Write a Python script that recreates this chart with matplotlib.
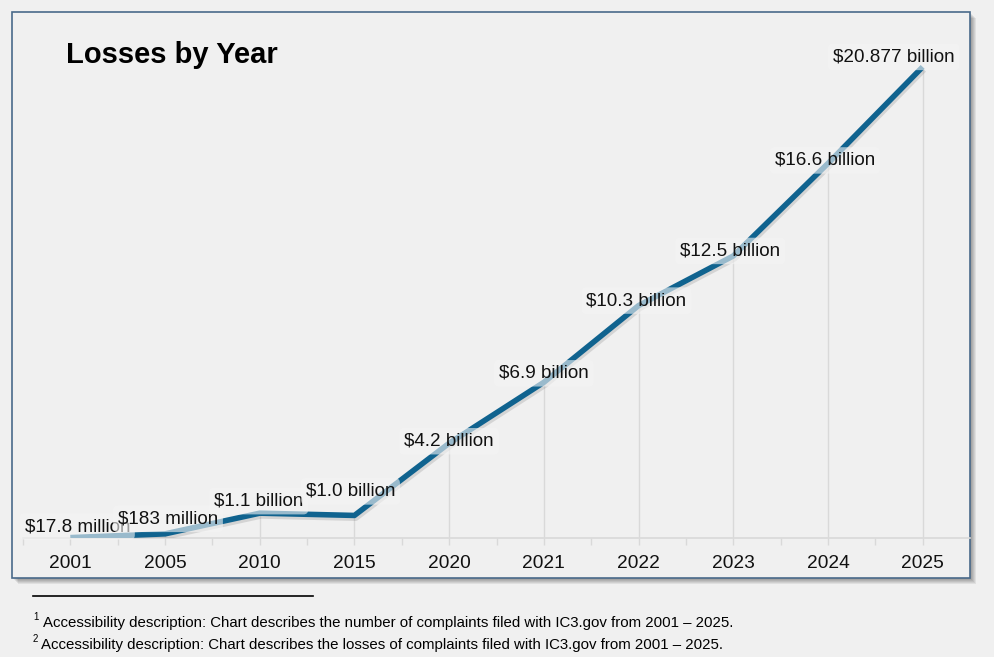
import matplotlib.pyplot as plt
import matplotlib.patches as mpatches
import matplotlib.patheffects as pe

# ==== data ====
years = ['2001', '2005', '2010', '2015', '2020', '2021', '2022', '2023', '2024', '2025']
losses_billion = [0.0178, 0.183, 1.1, 1.0, 4.2, 6.9, 10.3, 12.5, 16.6, 20.877]
labels = ['$17.8 million', '$183 million', '$1.1 billion', '$1.0 billion', '$4.2 billion',
          '$6.9 billion', '$10.3 billion', '$12.5 billion', '$16.6 billion', '$20.877 billion']
# label offsets in pixels (dx, dy) from each point
label_offsets = [(7, 11), (3, 15), (-1, 12), (-4, 24), (0, 2),
                 (0, 9), (-2, 5), (-3, 5), (-3, 3), (-29, 10)]
footnotes = ['Accessibility description: Chart describes the number of complaints filed with IC3.gov from 2001 \u2013 2025.',
             'Accessibility description: Chart describes the losses of complaints filed with IC3.gov from 2001 \u2013 2025.']

W, H = 994, 657
BG = '#f0f0f0'
LINE = '#10638f'
GRID = '#d9d9d9'

plt.rcParams['font.family'] = ['Liberation Sans', 'DejaVu Sans']

fig = plt.figure(figsize=(W / 100, H / 100), dpi=100, facecolor=BG)


def px_rect(x0, y0, x1, y1, **kw):
    # pixel box (top-left origin) -> figure coords rectangle
    return mpatches.Rectangle((x0 / W, 1 - y1 / H), (x1 - x0) / W, (y1 - y0) / H,
                              transform=fig.transFigure, **kw)


# ==== frame with soft shadow ====
for i in range(1, 7):
    fig.add_artist(px_rect(12 + i, 12 + i, 970 + i, 578 + i, fc='#000000', ec='none',
                           alpha=0.07, zorder=0))
fig.add_artist(px_rect(12, 12, 970, 578, fc=BG, ec='#4a6a8a', lw=1.2, zorder=1))

# ==== axes ====
ax = fig.add_axes([23 / W, 1 - 538 / H, 947 / W, 498 / H])
ax.set_facecolor('none')
ax.set_zorder(2)
x = list(range(len(years)))

ax.vlines(x, 0, losses_billion, color=GRID, lw=1.0, zorder=1)
ax.plot(x, losses_billion, color=LINE, lw=4, solid_capstyle='butt', zorder=3,
        path_effects=[pe.SimpleLineShadow(offset=(1, -2), shadow_color='#666666', alpha=0.2),
                      pe.Normal()])

for xi, v, lab, (dx, dy) in zip(x, losses_billion, labels, label_offsets):
    ax.annotate(lab, (xi, v), xytext=(dx, dy), textcoords='offset pixels',
                ha='center', va='center', fontsize=13.6, color='#111111', zorder=4,
                bbox=dict(boxstyle='round,pad=0.25', fc='#f5f5f5', ec='none', alpha=0.6))

ax.set_xlim(-0.5, 9.5)
ax.set_ylim(0, 22.07)
ax.set_xticks(x)
ax.set_xticklabels(years, fontsize=13.8, color='#111111')
ax.set_xticks([i - 0.5 for i in x], minor=True)
ax.tick_params(axis='x', which='both', length=5, color=GRID, width=1, pad=7)
ax.set_yticks([])
for s in ['top', 'left', 'right']:
    ax.spines[s].set_visible(False)
ax.spines['bottom'].set_color(GRID)
ax.spines['bottom'].set_linewidth(1.2)

# ==== title ====
fig.text(66 / W, 1 - 55 / H, 'Losses by Year', fontsize=21, fontweight='bold',
         ha='left', va='center', color='#000000', zorder=5)

# ==== footnotes ====
fig.add_artist(plt.Line2D([33 / W, 313 / W], [1 - 596 / H, 1 - 596 / H],
                          transform=fig.transFigure, color='black', lw=1.2))
fig.text(33 / W, 1 - 617 / H, '1', fontsize=7, ha='left', va='center')
fig.text(43 / W, 1 - 623 / H, footnotes[0], fontsize=10.8, ha='left', va='center')
fig.text(33 / W, 1 - 639 / H, '2', fontsize=7, ha='left', va='center')
fig.text(41 / W, 1 - 645 / H, footnotes[1], fontsize=10.8, ha='left', va='center')

fig.savefig('out.png', dpi=100, facecolor=BG)
